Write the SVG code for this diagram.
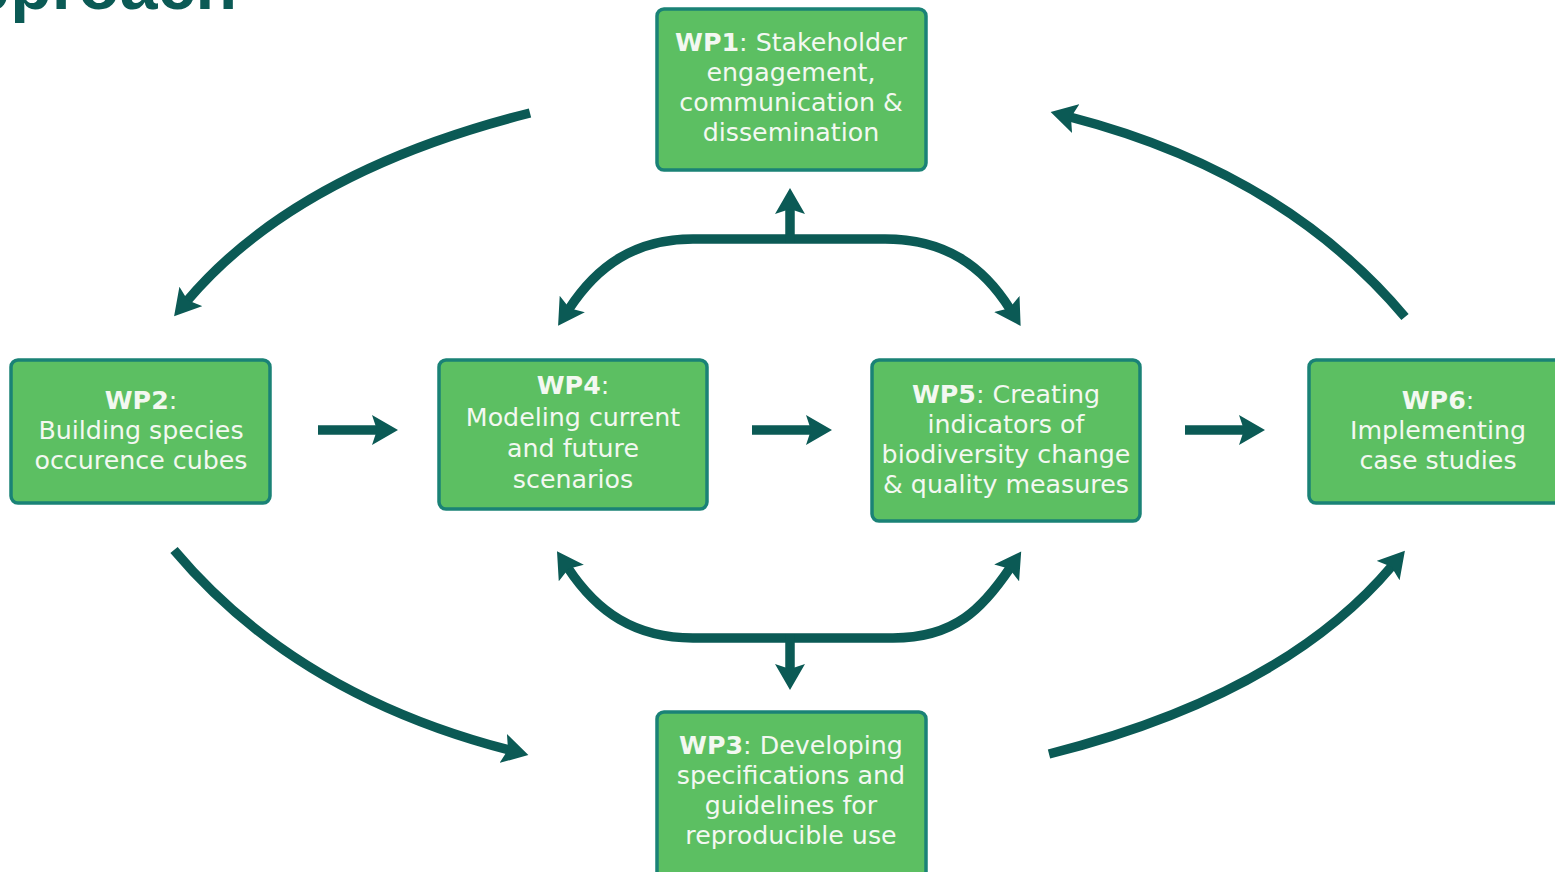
<svg xmlns="http://www.w3.org/2000/svg" width="1555" height="872" viewBox="0 0 1555 872">
<style>
.box{fill:#5CBF62;stroke:#1A8276;stroke-width:3.5}
.t{font-family:"DejaVu Sans",Verdana,sans-serif;font-size:25.3px;fill:#F3F8F1;text-anchor:middle}
.b{font-weight:bold}
.c{fill:none;stroke:#0B5A55;stroke-width:9.5;marker-end:url(#ah)}
.title{font-family:"Liberation Sans",Arial,sans-serif;font-weight:bold;font-size:68px;fill:#0B5A55;text-anchor:end}
</style>
<defs>
<marker id="ah" markerUnits="userSpaceOnUse" markerWidth="28" markerHeight="30" viewBox="0 0 28 30" refX="6" refY="15" orient="auto">
<path d="M0,0 L26,15 L0,30 L5,15 z" fill="#0B5A55"/>
</marker>
</defs>
<rect width="1555" height="872" fill="#FFFFFF"/>
<text class="title" x="237" y="9">Approach</text>
<g id="connectors">
<path class="c" d="M530,113 Q296,172 187,301"/>
<path class="c" d="M1405,317 Q1283,172 1070,117"/>
<path class="c" d="M174,550 Q296,695 509,750"/>
<path class="c" d="M1049,754 Q1283,695 1392,566"/>
<path class="c" d="M790,239 H693 C635,239 597,266 569,309"/>
<path class="c" d="M790,239 H885 C945,239 983,266 1010,309"/>
<path class="c" d="M790,243 V208"/>
<path class="c" d="M790,638 H693 C635,638 597,612 568,568"/>
<path class="c" d="M790,638 H893 C955,638 983,608 1010,568"/>
<path class="c" d="M790,634 V670"/>
<path class="c" d="M318,430 H378"/>
<path class="c" d="M752,430 H812"/>
<path class="c" d="M1185,430 H1245"/>
</g>
<g id="wp1">
<rect class="box" x="657" y="9" width="269" height="161" rx="7"/>
<text class="t" x="791" y="51"><tspan class="b">WP1</tspan>: Stakeholder</text>
<text class="t" x="791" y="81">engagement,</text>
<text class="t" x="791" y="111">communication &amp;</text>
<text class="t" x="791" y="141">dissemination</text>
</g>
<g id="wp2">
<rect class="box" x="11" y="360" width="259" height="143" rx="7"/>
<text class="t" x="141" y="409"><tspan class="b">WP2</tspan>:</text>
<text class="t" x="141" y="439">Building species</text>
<text class="t" x="141" y="469">occurence cubes</text>
</g>
<g id="wp4">
<rect class="box" x="439" y="360" width="268" height="149" rx="7"/>
<text class="t" x="573" y="394"><tspan class="b">WP4</tspan>:</text>
<text class="t" x="573" y="426">Modeling current</text>
<text class="t" x="573" y="457">and future</text>
<text class="t" x="573" y="488">scenarios</text>
</g>
<g id="wp5">
<rect class="box" x="872" y="360" width="268" height="161" rx="7"/>
<text class="t" x="1006" y="403"><tspan class="b">WP5</tspan>: Creating</text>
<text class="t" x="1006" y="433">indicators of</text>
<text class="t" x="1006" y="463">biodiversity change</text>
<text class="t" x="1006" y="493">&amp; quality measures</text>
</g>
<g id="wp6">
<rect class="box" x="1309" y="360" width="270" height="143" rx="7"/>
<text class="t" x="1438" y="409"><tspan class="b">WP6</tspan>:</text>
<text class="t" x="1438" y="439">Implementing</text>
<text class="t" x="1438" y="469">case studies</text>
</g>
<g id="wp3">
<rect class="box" x="657" y="712" width="269" height="170" rx="7"/>
<text class="t" x="791" y="754"><tspan class="b">WP3</tspan>: Developing</text>
<text class="t" x="791" y="784">specifications and</text>
<text class="t" x="791" y="814">guidelines for</text>
<text class="t" x="791" y="844">reproducible use</text>
</g>
</svg>
